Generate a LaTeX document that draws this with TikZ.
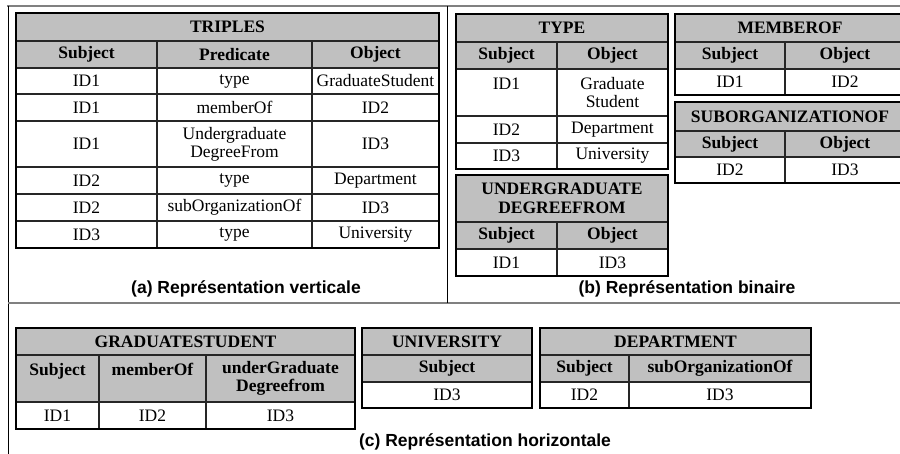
\documentclass[tikz,border=0pt]{standalone}
\usepackage{fontspec}
\setmainfont{Liberation Serif}
\newfontfamily\capfamily{Liberation Sans}
\definecolor{hdrgray}{RGB}{192,192,192}
\definecolor{rulegray}{RGB}{128,128,128}
\newcommand\cellfont{\fontsize{17.5}{18}\selectfont}
\newcommand\hdrfont{\fontsize{17.5}{18.5}\selectfont\bfseries}
\newcommand\capfont{\capfamily\bfseries\fontsize{17.5}{20}\selectfont}
% table cell: name, x1, y1, x2, y2, style, text
\newcommand\tcell[7]{%
  \node[#6, minimum width={(#4-#2)*1pt}, minimum height={(#5-#3)*1pt}]
    (#1) at ({(#2+#4)/2},{(#3+#5)/2}) {#7};}
\tikzset{
  cellbase/.style={draw=black!85, line width=1.1pt, inner sep=0pt, outer sep=0pt, align=center},
  hcell/.style={cellbase, fill=hdrgray, font=\hdrfont},
  dcell/.style={cellbase, fill=white, font=\cellfont},
  tframe/.style={draw=black, line width=2pt},
  hrule/.style={draw=rulegray, line width=2pt},
  vrule/.style={draw=black, line width=1pt},
  caption/.style={font=\capfont, inner sep=0pt}
}
\begin{document}
\begin{tikzpicture}[x=1pt, y=-1pt]
\clip (0,0) rectangle (900,454);
\fill[white] (0,0) rectangle (900,454);

% panel rules
\draw[hrule] (7,6) -- (900,6);
\draw[vrule] (8,6) -- (8,454);
\draw[hrule] (8,303) -- (900,303);
\draw[vrule] (447,6) -- (447,303);

% ---- (a) vertical representation
\tcell{trT}{16}{13}{439}{41}{hcell}{TRIPLES}
\tcell{trH1}{16}{41}{157}{68}{hcell}{Subject}
\tcell{trH2}{157}{41}{312}{68}{hcell}{Predicate}
\tcell{trH3}{312}{41}{439}{68}{hcell}{Object}
\tcell{trA1}{16}{68}{157}{94}{dcell}{ID1}
\tcell{trA2}{157}{68}{312}{94}{dcell}{type}
\tcell{trA3}{312}{68}{439}{94}{dcell}{GraduateStudent}
\tcell{trB1}{16}{94}{157}{121}{dcell}{ID1}
\tcell{trB2}{157}{94}{312}{121}{dcell}{memberOf}
\tcell{trB3}{312}{94}{439}{121}{dcell}{ID2}
\tcell{trC1}{16}{121}{157}{167}{dcell}{ID1}
\tcell{trC2}{157}{121}{312}{167}{dcell}{Undergraduate\\DegreeFrom}
\tcell{trC3}{312}{121}{439}{167}{dcell}{ID3}
\tcell{trD1}{16}{167}{157}{194}{dcell}{ID2}
\tcell{trD2}{157}{167}{312}{194}{dcell}{type}
\tcell{trD3}{312}{167}{439}{194}{dcell}{Department}
\tcell{trE1}{16}{194}{157}{221}{dcell}{ID2}
\tcell{trE2}{157}{194}{312}{221}{dcell}{subOrganizationOf}
\tcell{trE3}{312}{194}{439}{221}{dcell}{ID3}
\tcell{trF1}{16}{221}{157}{248}{dcell}{ID3}
\tcell{trF2}{157}{221}{312}{248}{dcell}{type}
\tcell{trF3}{312}{221}{439}{248}{dcell}{University}
\draw[tframe] (trT.north west) rectangle (trF3.south east);
\node[caption] (capA) at (246,289) {(a) Représentation verticale};

% ---- (b) binary representation
\tcell{tyT}{456}{14}{668}{42}{hcell}{TYPE}
\tcell{tyH1}{456}{42}{557}{69}{hcell}{Subject}
\tcell{tyH2}{557}{42}{668}{69}{hcell}{Object}
\tcell{tyA1}{456}{69}{557}{116}{dcell}{ID1\\\mbox{}}
\tcell{tyA2}{557}{69}{668}{116}{dcell}{Graduate\\Student}
\tcell{tyB1}{456}{116}{557}{143}{dcell}{ID2}
\tcell{tyB2}{557}{116}{668}{143}{dcell}{Department}
\tcell{tyC1}{456}{143}{557}{169}{dcell}{ID3}
\tcell{tyC2}{557}{143}{668}{169}{dcell}{University}
\draw[tframe] (tyT.north west) rectangle (tyC2.south east);

\tcell{mbT}{675}{14}{905}{42}{hcell}{MEMBEROF}
\tcell{mbH1}{675}{42}{785}{69}{hcell}{Subject}
\tcell{mbH2}{785}{42}{905}{69}{hcell}{Object}
\tcell{mbA1}{675}{69}{785}{95}{dcell}{ID1}
\tcell{mbA2}{785}{69}{905}{95}{dcell}{ID2}
\draw[tframe] (mbT.north west) rectangle (mbA2.south east);

\tcell{soT}{675}{102}{905}{131}{hcell}{SUBORGANIZATIONOF}
\tcell{soH1}{675}{131}{785}{157}{hcell}{Subject}
\tcell{soH2}{785}{131}{905}{157}{hcell}{Object}
\tcell{soA1}{675}{157}{785}{183}{dcell}{ID2}
\tcell{soA2}{785}{157}{905}{183}{dcell}{ID3}
\draw[tframe] (soT.north west) rectangle (soA2.south east);

\tcell{udT}{456}{175}{668}{222}{hcell}{UNDERGRADUATE\\DEGREEFROM}
\tcell{udH1}{456}{222}{557}{249}{hcell}{Subject}
\tcell{udH2}{557}{222}{668}{249}{hcell}{Object}
\tcell{udA1}{456}{249}{557}{276}{dcell}{ID1}
\tcell{udA2}{557}{249}{668}{276}{dcell}{ID3}
\draw[tframe] (udT.north west) rectangle (udA2.south east);
\node[caption] (capB) at (687,289) {(b) Représentation binaire};

% ---- (c) horizontal representation
\tcell{gsT}{16}{328}{355}{355}{hcell}{GRADUATESTUDENT}
\tcell{gsH1}{16}{355}{99}{402}{hcell}{Subject\\\mbox{}}
\tcell{gsH2}{99}{355}{206}{402}{hcell}{memberOf\\\mbox{}}
\tcell{gsH3}{206}{355}{355}{402}{hcell}{underGraduate\\Degreefrom}
\tcell{gsA1}{16}{402}{99}{429}{dcell}{ID1}
\tcell{gsA2}{99}{402}{206}{429}{dcell}{ID2}
\tcell{gsA3}{206}{402}{355}{429}{dcell}{ID3}
\draw[tframe] (gsT.north west) rectangle (gsA3.south east);

\tcell{unT}{362}{328}{532}{355}{hcell}{UNIVERSITY}
\tcell{unH1}{362}{355}{532}{382}{hcell}{Subject}
\tcell{unA1}{362}{382}{532}{408}{dcell}{ID3}
\draw[tframe] (unT.north west) rectangle (unA1.south east);

\tcell{dpT}{540}{328}{811}{355}{hcell}{DEPARTMENT}
\tcell{dpH1}{540}{355}{629}{382}{hcell}{Subject}
\tcell{dpH2}{629}{355}{811}{382}{hcell}{subOrganizationOf}
\tcell{dpA1}{540}{382}{629}{408}{dcell}{ID2}
\tcell{dpA2}{629}{382}{811}{408}{dcell}{ID3}
\draw[tframe] (dpT.north west) rectangle (dpA2.south east);
\node[caption] (capC) at (485,442) {(c) Représentation horizontale};
\end{tikzpicture}
\end{document}
